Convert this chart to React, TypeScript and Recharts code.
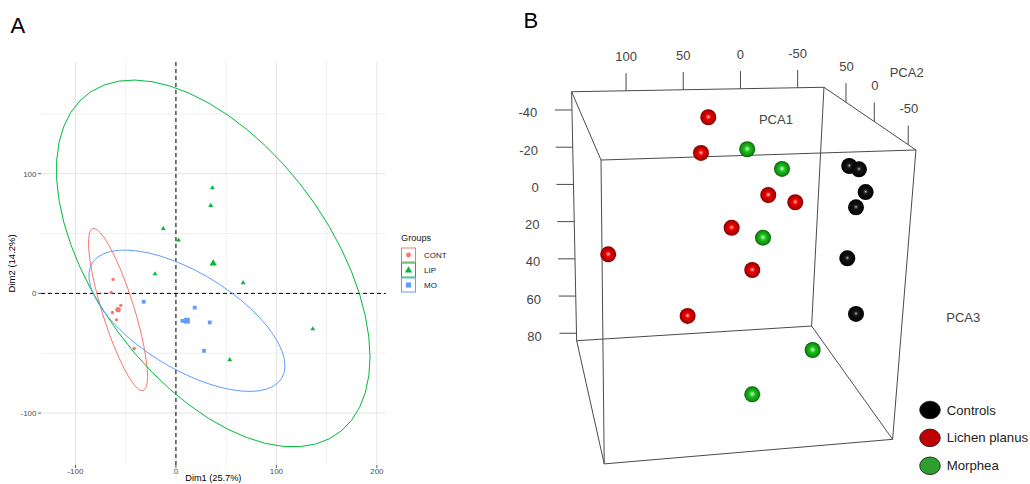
import React from 'react';
import { ScatterChart, Scatter, XAxis, YAxis, ReferenceLine, Legend, Label } from 'recharts';

const FONT = '"Liberation Sans", Arial, Helvetica, sans-serif';

// ================= Panel A : PCA individuals (Dim1 x Dim2) =================
const contPoints = [
  { x: -62.5, y: 11.7 },
  { x: -64.5, y: 0.8 },
  { x: -54.9, y: -10.0 },
  { x: -63.2, y: -15.9 },
  { x: -59.2, y: -22.1 },
  { x: -41.5, y: -46.0 },
];
const lipPoints = [
  { x: 36.3, y: 88.1 },
  { x: 34.6, y: 73.4 },
  { x: -12.6, y: 54.2 },
  { x: 2.6, y: 44.5 },
  { x: -20.8, y: 16.3 },
  { x: 66.9, y: 8.9 },
  { x: 136.2, y: -29.7 },
  { x: 53.6, y: -55.5 },
];
const moPoints = [
  { x: -32.1, y: -7.0 },
  { x: 18.7, y: -11.9 },
  { x: 6.5, y: -23.0 },
  { x: 33.7, y: -24.3 },
  { x: 28.0, y: -48.0 },
];
const groupNamesA = ['CONT', 'LIP', 'MO'];
const groupColorsA = ['#F8766D', '#00BA38', '#619CFF'];
const groupShapesA = ['circle', 'triangle', 'square'];
const dim1Ticks = [-100, 0, 100, 200];
const dim2Ticks = [-100, 0, 100];
const dim1Grid = [-100, -50, 0, 50, 100, 150, 200];
const dim2Grid = [-100, -50, 0, 50, 100, 150];

// ================= Panel B : 3-D PCA view =================
// projected sample positions, read against the PCA1 scale (top edge) and PCA3 scale (left edge)
const controlsB = [
  { x: -95.1, y: -9.9 },
  { x: -103.6, y: -8.1 },
  { x: -109.4, y: 4.1 },
  { x: -101.0, y: 12.3 },
  { x: -93.4, y: 39.7 },
  { x: -101.0, y: 69.6 },
];
const lichenB = [
  { x: 28.1, y: -36.1 },
  { x: 34.5, y: -16.9 },
  { x: -24.3, y: 5.7 },
  { x: -47.9, y: 9.6 },
  { x: 7.7, y: 23.3 },
  { x: 115.6, y: 37.6 },
  { x: -10.3, y: 46.0 },
  { x: 46.2, y: 70.7 },
];
const morpheaB = [
  { x: -5.9, y: -18.9 },
  { x: -36.3, y: -8.3 },
  { x: -19.7, y: 28.6 },
  { x: -63.1, y: 89.0 },
  { x: -10.3, y: 112.8 },
];
const groupNamesB = ['Controls', 'Lichen planus', 'Morphea'];
// projected corners of the bounding box
const boxCorners: Record<string, { x: number; y: number }> = {
  btl: { x: 147.6, y: -49.8 },
  btr: { x: -73.0, y: -52.2 },
  ftl: { x: 121.9, y: -13.1 },
  ftr: { x: -153.4, y: -18.5 },
  bbl: { x: 143.2, y: 84.0 },
  bbr: { x: -62.2, y: 76.1 },
  fbl: { x: 119.1, y: 150.2 },
  fbr: { x: -133.0, y: 137.0 },
};
const boxEdges = [
  ['btl', 'btr'], ['ftl', 'ftr'], ['btl', 'ftl'], ['btr', 'ftr'],
  ['bbl', 'bbr'], ['fbl', 'fbr'], ['bbl', 'fbl'], ['bbr', 'fbr'],
  ['btl', 'bbl'], ['btr', 'bbr'], ['ftl', 'fbl'], ['ftr', 'fbr'],
];
const pca1Ticks = [100, 50, 0, -50];
const pca3Ticks = [-40, -20, 0, 20, 40, 60, 80];
const pca2Ticks = [50, 0, -50];
const pca2TickFractions = [0.239, 0.547, 0.916]; // along the top-right depth edge
const axisTitlesB = [
  { x: -31.0, y: -35.1, label: 'PCA1' },
  { x: -145.3, y: -60.0, label: 'PCA2' },
  { x: -194.8, y: 71.4, label: 'PCA3' },
];

// ---------------------------------------------------------------------------
type Pt = { x: number; y: number };

// ggplot2 stat_ellipse(type = "norm", level = 0.95)
function normEllipse(pts: Pt[], level = 0.95, segments = 51): Pt[] {
  const n = pts.length;
  const mx = pts.reduce((s, p) => s + p.x, 0) / n;
  const my = pts.reduce((s, p) => s + p.y, 0) / n;
  let sxx = 0, syy = 0, sxy = 0;
  pts.forEach((p) => {
    const dx = p.x - mx, dy = p.y - my;
    sxx += dx * dx; syy += dy * dy; sxy += dx * dy;
  });
  sxx /= n - 1; syy /= n - 1; sxy /= n - 1;
  const dfd = n - 1;
  const fq = (dfd / 2) * (Math.pow(1 - level, -2 / dfd) - 1); // qf(level, 2, dfd)
  const radius = Math.sqrt(2 * fq);
  const r11 = Math.sqrt(sxx);
  const r12 = sxy / r11;
  const r22 = Math.sqrt(Math.max(syy - r12 * r12, 0));
  const out: Pt[] = [];
  for (let i = 0; i <= segments; i++) {
    const a = (i * 2 * Math.PI) / segments;
    const c = Math.cos(a), s = Math.sin(a);
    out.push({ x: mx + radius * c * r11, y: my + radius * (c * r12 + s * r22) });
  }
  return out;
}
const meanOf = (pts: Pt[]): Pt => ({
  x: pts.reduce((s, p) => s + p.x, 0) / pts.length,
  y: pts.reduce((s, p) => s + p.y, 0) / pts.length,
});

const pointsA = [contPoints, lipPoints, moPoints];
const groupsA = groupNamesA.map((name, i) => ({
  name,
  color: groupColorsA[i],
  shape: groupShapesA[i],
  points: pointsA[i],
  ellipse: normEllipse(pointsA[i]),
  mean: [meanOf(pointsA[i])],
}));

function expandedDomain(vals: number[]): [number, number] {
  const lo = Math.min(...vals), hi = Math.max(...vals);
  const pad = (hi - lo) * 0.05;
  return [lo - pad, hi + pad];
}
const allA = groupsA.flatMap((g) => [...g.points, ...g.ellipse]);
const xDomainA = expandedDomain(allA.map((p) => p.x));
const yDomainA = expandedDomain(allA.map((p) => p.y));

const noShape = () => <g />;

function markShape(kind: string, size: number, color: string) {
  return (p: any) => {
    const { cx, cy } = p;
    if (cx == null || cy == null) return <g />;
    if (kind === 'circle') return <circle cx={cx} cy={cy} r={size / 2} fill={color} />;
    if (kind === 'square')
      return <rect x={cx - size / 2} y={cy - size / 2} width={size} height={size} fill={color} />;
    const h = (size * Math.sqrt(3)) / 2;
    return (
      <polygon
        points={`${cx},${cy - (2 * h) / 3} ${cx - size / 2},${cy + h / 3} ${cx + size / 2},${cy + h / 3}`}
        fill={color}
      />
    );
  };
}
const smallSize: Record<string, number> = { circle: 3.4, triangle: 4.8, square: 3.8 };
const meanSize: Record<string, number> = { circle: 5.4, triangle: 7.4, square: 5.8 };

function LegendA() {
  return (
    <svg width={62} height={70} style={{ overflow: 'visible', display: 'block' }}>
      <text x={3} y={9.5} fontSize={9.2} fill="#1a1a1a" dominantBaseline="central">Groups</text>
      {groupsA.map((g, i) => {
        const top = 20 + i * 15;
        const cx = 10.5, cy = top + 7;
        let mark;
        if (g.shape === 'circle') mark = <circle cx={cx} cy={cy} r={2.4} fill={g.color} />;
        else if (g.shape === 'square') mark = <rect x={cx - 2.6} y={cy - 2.6} width={5.2} height={5.2} fill={g.color} />;
        else mark = <polygon points={`${cx},${cy - 3.8} ${cx - 3.6},${cy + 2.4} ${cx + 3.6},${cy + 2.4}`} fill={g.color} />;
        return (
          <g key={g.name}>
            <rect x={3.5} y={top} width={14} height={14} fill="#fff" stroke={g.color} strokeWidth={1} />
            {mark}
            <text x={26} y={cy} fontSize={8} fill="#1a1a1a" dominantBaseline="central">{g.name}</text>
          </g>
        );
      })}
    </svg>
  );
}

function PanelA() {
  return (
    <ScatterChart width={520} height={500} margin={{ top: 61.7, right: 134.3, bottom: 23, left: 0 }}>
      <XAxis
        type="number"
        dataKey="x"
        domain={xDomainA}
        ticks={dim1Ticks}
        allowDataOverflow
        height={12}
        axisLine={false}
        tickSize={3}
        tickMargin={0.5}
        tickLine={{ stroke: '#333', strokeWidth: 0.8 }}
        tick={{ fontSize: 8, fill: '#4D4D4D' }}
      >
        <Label value="Dim1 (25.7%)" position="bottom" offset={-3} style={{ fontSize: 9.2, fill: '#000' }} />
      </XAxis>
      <YAxis
        type="number"
        dataKey="y"
        domain={yDomainA}
        ticks={dim2Ticks}
        allowDataOverflow
        width={41}
        axisLine={false}
        tickSize={3}
        tickMargin={1.5}
        tickLine={{ stroke: '#333', strokeWidth: 0.8 }}
        tick={{ fontSize: 8, fill: '#4D4D4D' }}
      >
        <Label
          value="Dim2 (14.2%)"
          angle={-90}
          position="insideLeft"
          offset={11.5}
          style={{ textAnchor: 'middle', fontSize: 9.5, fill: '#000' }}
        />
      </YAxis>
      {dim1Grid.map((v) => (
        <ReferenceLine
          key={'gx' + v}
          x={v}
          stroke={dim1Ticks.includes(v) ? '#E4E4E4' : '#EFEFEF'}
          strokeWidth={1}
          zIndex={-50}
        />
      ))}
      {dim2Grid.map((v) => (
        <ReferenceLine
          key={'gy' + v}
          y={v}
          stroke={dim2Ticks.includes(v) ? '#E4E4E4' : '#EFEFEF'}
          strokeWidth={1}
          zIndex={-50}
        />
      ))}
      {groupsA.map((g) => (
        <Scatter
          key={g.name + '-ell'}
          name={g.name + ' ellipse'}
          data={g.ellipse}
          line={{ stroke: g.color, strokeWidth: 1 }}
          shape={noShape}
          legendType="none"
          isAnimationActive={false}
        />
      ))}
      {groupsA.map((g) => (
        <Scatter
          key={g.name}
          name={g.name}
          data={g.points}
          shape={markShape(g.shape, smallSize[g.shape], g.color)}
          isAnimationActive={false}
        />
      ))}
      {groupsA.map((g) => (
        <Scatter
          key={g.name + '-mean'}
          name={g.name + ' mean'}
          data={g.mean}
          shape={markShape(g.shape, meanSize[g.shape], g.color)}
          legendType="none"
          isAnimationActive={false}
        />
      ))}
      <ReferenceLine x={0} stroke="#000" strokeWidth={1} strokeDasharray="4 3" />
      <ReferenceLine y={0} stroke="#000" strokeWidth={1} strokeDasharray="4 3" />
      <Legend
        layout="vertical"
        align="center"
        verticalAlign="middle"
        content={() => <LegendA />}
        wrapperStyle={{ left: 398, top: 228, width: 62, height: 70 }}
      />
    </ScatterChart>
  );
}

// ---------------------------------------------------------------------------
const lerp = (a: Pt, b: Pt, t: number): Pt => ({ x: a.x + (b.x - a.x) * t, y: a.y + (b.y - a.y) * t });

const segmentsB: Pt[][] = [];
boxEdges.forEach(([a, b]) => segmentsB.push([boxCorners[a], boxCorners[b]]));
const tickLabelsB: { x: number; y: number; label: string; anchor: string }[] = [];
pca1Ticks.forEach((v) => {
  const t = (boxCorners.btl.x - v) / (boxCorners.btl.x - boxCorners.btr.x);
  const p = lerp(boxCorners.btl, boxCorners.btr, t);
  segmentsB.push([p, { x: p.x, y: p.y - 9.5 }]);
  tickLabelsB.push({ x: p.x, y: p.y - 18.5, label: String(v), anchor: 'middle' });
});
pca3Ticks.forEach((v) => {
  const t = (v - boxCorners.btl.y) / (boxCorners.bbl.y - boxCorners.btl.y);
  const p = lerp(boxCorners.btl, boxCorners.bbl, t);
  segmentsB.push([p, { x: p.x + 14.9, y: p.y }]);
  tickLabelsB.push({ x: p.x + 30.3, y: p.y + 1.6, label: String(v), anchor: 'end' });
});
pca2Ticks.forEach((v, i) => {
  const p = lerp(boxCorners.btr, boxCorners.ftr, pca2TickFractions[i]);
  segmentsB.push([p, { x: p.x, y: p.y - 10.3 }]);
  tickLabelsB.push({ x: p.x - 0.5, y: p.y - 19.3, label: String(v), anchor: 'middle' });
});
axisTitlesB.forEach((a) => tickLabelsB.push({ ...a, anchor: 'middle' }));

const sphereR = 8;
const sphereShape = (grad: string) => (p: any) =>
  p.cx == null ? <g /> : <circle cx={p.cx} cy={p.cy} r={sphereR} fill={`url(#${grad})`} />;
const textShape = (p: any) =>
  p.cx == null ? (
    <g />
  ) : (
    <text x={p.cx} y={p.cy} fontSize={13} fill="#444" textAnchor={p.payload.anchor} dominantBaseline="central">
      {p.payload.label}
    </text>
  );

const legendColorsB = ['#000000', '#C00000', '#2E9E2E'];

function LegendB() {
  return (
    <svg width={114} height={85} style={{ overflow: 'visible', display: 'block' }}>
      {groupNamesB.map((name, i) => {
        const cy = 12 + i * 27.9;
        return (
          <g key={name}>
            <ellipse cx={14} cy={cy} rx={10.3} ry={8.8} fill={legendColorsB[i]} stroke="#111" strokeWidth={0.8} />
            <text x={30.7} y={cy} fontSize={13.2} fill="#222" dominantBaseline="central">{name}</text>
          </g>
        );
      })}
    </svg>
  );
}

function PanelB() {
  return (
    <ScatterChart width={530} height={484} margin={{ top: 0, right: 0, bottom: 0, left: 0 }}>
      <XAxis type="number" dataKey="x" domain={[-253.1, 210.2]} reversed hide allowDataOverflow />
      <YAxis type="number" dataKey="y" domain={[-99.1, 161.0]} reversed hide allowDataOverflow />
      {segmentsB.map((seg, i) => (
        <Scatter
          key={'seg' + i}
          data={seg}
          line={{ stroke: '#4a4a4a', strokeWidth: 1 }}
          shape={noShape}
          legendType="none"
          isAnimationActive={false}
        />
      ))}
      <Scatter name="Controls" data={controlsB} shape={sphereShape('sphBlack')} isAnimationActive={false} />
      <Scatter name="Lichen planus" data={lichenB} shape={sphereShape('sphRed')} isAnimationActive={false} />
      <Scatter name="Morphea" data={morpheaB} shape={sphereShape('sphGreen')} isAnimationActive={false} />
      <Scatter data={tickLabelsB} shape={textShape} legendType="none" isAnimationActive={false} />
      <Legend
        layout="vertical"
        align="center"
        verticalAlign="middle"
        content={() => <LegendB />}
        wrapperStyle={{ left: 416, top: 398, width: 114, height: 85 }}
      />
    </ScatterChart>
  );
}

export default function App() {
  return (
    <div
      style={{
        position: 'absolute',
        left: 0,
        top: 0,
        width: 1030,
        height: 484,
        overflow: 'hidden',
        background: '#fff',
        fontFamily: FONT,
      }}
    >
      <svg width={0} height={0} style={{ position: 'absolute' }}>
        <defs>
          <radialGradient id="sphRed" cx="50%" cy="50%" r="50%" fx="50%" fy="47%">
            <stop offset="0" stopColor="#ffffff" />
            <stop offset="0.14" stopColor="#ff5a5a" />
            <stop offset="0.36" stopColor="#e60000" />
            <stop offset="0.8" stopColor="#b40000" />
            <stop offset="1" stopColor="#780000" />
          </radialGradient>
          <radialGradient id="sphGreen" cx="50%" cy="50%" r="50%" fx="50%" fy="47%">
            <stop offset="0" stopColor="#ffffff" />
            <stop offset="0.14" stopColor="#80f080" />
            <stop offset="0.36" stopColor="#1ec21e" />
            <stop offset="0.8" stopColor="#0f900f" />
            <stop offset="1" stopColor="#095a09" />
          </radialGradient>
          <radialGradient id="sphBlack" cx="50%" cy="50%" r="50%" fx="50%" fy="47%">
            <stop offset="0" stopColor="#d8d8d8" />
            <stop offset="0.12" stopColor="#5a5a5a" />
            <stop offset="0.3" stopColor="#151515" />
            <stop offset="1" stopColor="#000000" />
          </radialGradient>
        </defs>
      </svg>
      <div style={{ position: 'absolute', left: 0, top: 0 }}>
        <PanelA />
      </div>
      <div style={{ position: 'absolute', left: 500, top: 0 }}>
        <PanelB />
      </div>
      <div style={{ position: 'absolute', left: 10.5, top: 13, fontSize: 22, lineHeight: '26px', color: '#000' }}>A</div>
      <div style={{ position: 'absolute', left: 523.5, top: 8, fontSize: 22, lineHeight: '26px', color: '#000' }}>B</div>
    </div>
  );
}
